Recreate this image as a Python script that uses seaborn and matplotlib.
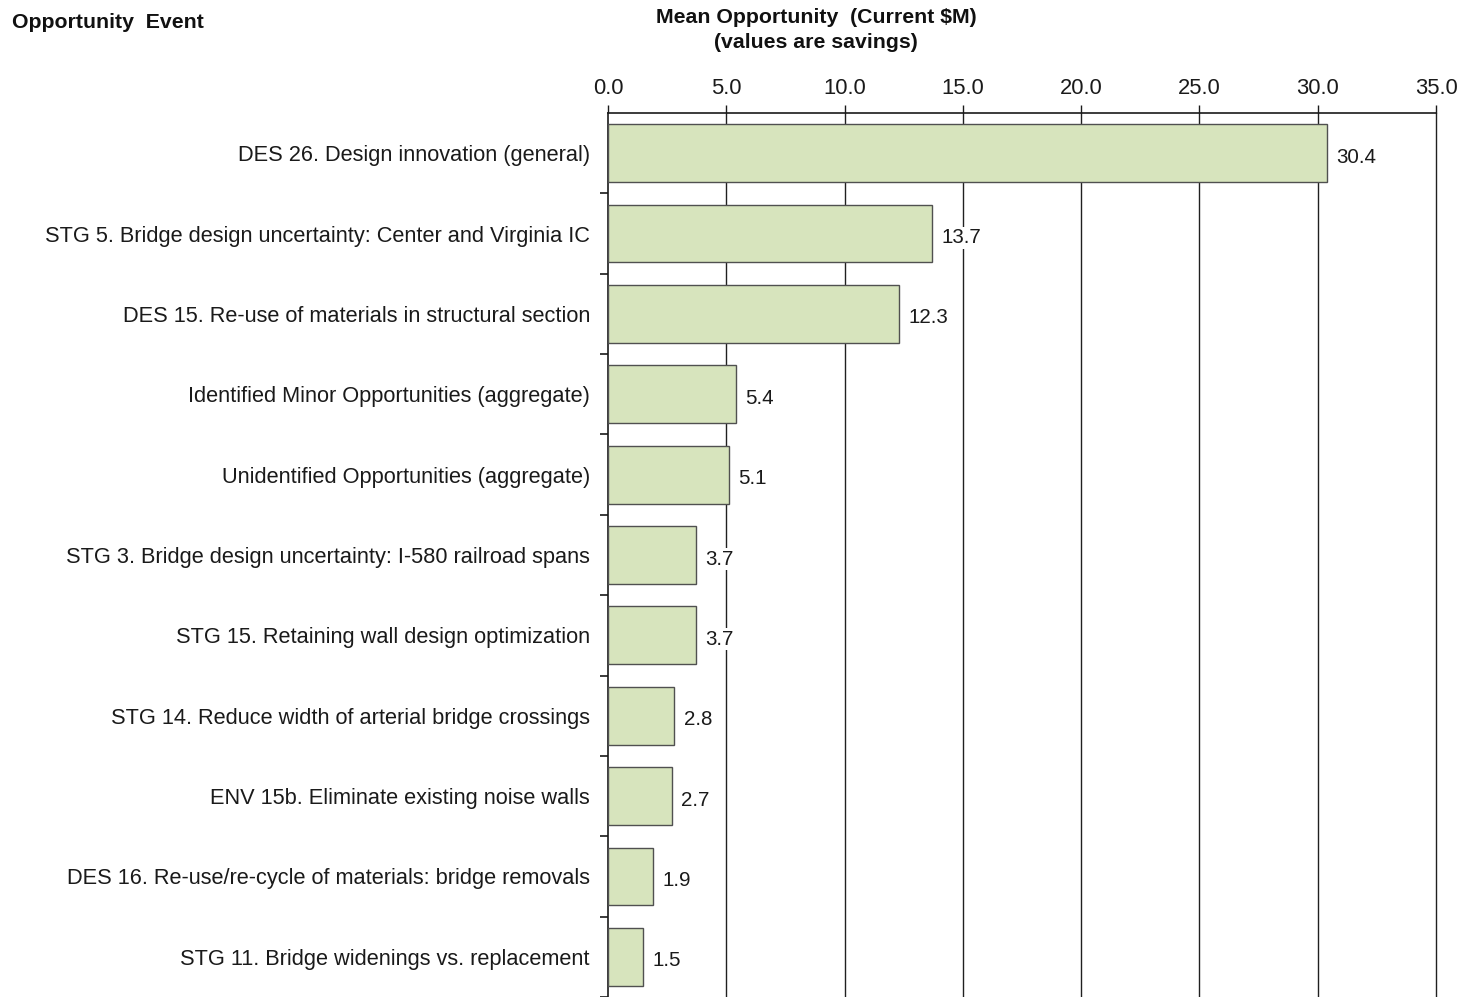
import matplotlib
matplotlib.use("Agg")
import matplotlib.pyplot as plt
import seaborn as sns
import pandas as pd
import numpy as np

events = [
    "DES 26. Design innovation (general)",
    "STG 5. Bridge design uncertainty: Center and Virginia IC",
    "DES 15. Re-use of materials in structural section",
    "Identified Minor Opportunities (aggregate)",
    "Unidentified Opportunities (aggregate)",
    "STG 3. Bridge design uncertainty: I-580 railroad spans",
    "STG 15. Retaining wall design optimization",
    "STG 14. Reduce width of arterial bridge crossings",
    "ENV 15b. Eliminate existing noise walls",
    "DES 16. Re-use/re-cycle of materials: bridge removals",
    "STG 11. Bridge widenings vs. replacement",
]
mean_opportunity = [30.4, 13.7, 12.3, 5.4, 5.1, 3.7, 3.7, 2.8, 2.7, 1.9, 1.5]
x_ticks = [0.0, 5.0, 10.0, 15.0, 20.0, 25.0, 30.0, 35.0]

df = pd.DataFrame({"event": events, "value": mean_opportunity})

sns.set_theme(style="white")
plt.rcParams["font.family"] = ["Liberation Sans", "DejaVu Sans"]

fig = plt.figure(figsize=(14.70, 9.97), dpi=100)
ax = fig.add_axes([608 / 1470, 0.0, (1436 - 608) / 1470, (997 - 113) / 997])

sns.barplot(data=df, x="value", y="event", orient="h", ax=ax,
            color="#d7e4bd", edgecolor="#505050", linewidth=1.0,
            width=0.72, saturation=1, zorder=3)

ax.set_xlim(0, 35)
ax.set_ylim(len(events) - 0.5, -0.5)

# x axis on top
ax.xaxis.tick_top()
ax.set_xticks(x_ticks)
ax.set_xticklabels([f"{t:.1f}" for t in x_ticks], fontsize=15.8, color="#1a1a1a")
ax.tick_params(axis="x", direction="out", length=6, width=1, color="#1a1a1a", pad=4)
ax.set_xlabel("")
ax.set_ylabel("")

# vertical gridlines
for t in x_ticks[1:-1]:
    ax.axvline(t, color="#202020", linewidth=1.0, zorder=1)

# category labels and boundary ticks on the y axis
ax.set_yticks(np.arange(len(events)))
ax.set_yticklabels(events, fontsize=15.7, color="#1a1a1a")
ax.tick_params(axis="y", which="major", length=0, pad=13)
ax.set_yticks(np.arange(len(events)) + 0.5, minor=True)
ax.tick_params(axis="y", which="minor", direction="out", length=6, width=1.2,
               color="#1a1a1a", left=True)

for side in ["top", "left", "right"]:
    ax.spines[side].set_visible(True)
    ax.spines[side].set_color("#1a1a1a")
    ax.spines[side].set_linewidth(1.2)
ax.spines["right"].set_linewidth(1.0)
ax.spines["right"].set_color("#202020")
ax.spines["bottom"].set_visible(False)

# value labels
for i, v in enumerate(mean_opportunity):
    ax.text(v + 0.4, i + 0.05, f"{v:.1f}", va="center", ha="left",
            fontsize=14.8, color="#1a1a1a", zorder=5,
            bbox=dict(facecolor="white", edgecolor="none", pad=1.0))

fig.text(12 / 1470, 1 - 22 / 997, "Opportunity  Event", fontsize=15.3,
         fontweight="bold", va="center", ha="left", color="#111111")
fig.text(816 / 1470, 1 - 30 / 997, "Mean Opportunity  (Current $M)\n(values are savings)",
         fontsize=15.3, fontweight="bold", va="center", ha="center",
         color="#111111", linespacing=1.35)

fig.savefig("out.png", dpi=100)
